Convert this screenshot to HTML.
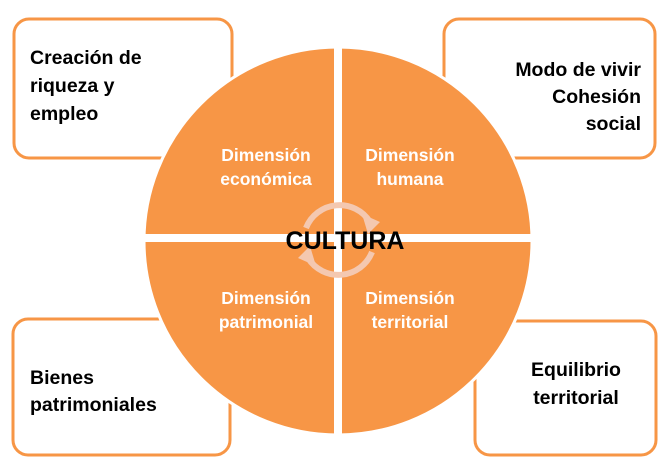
<!DOCTYPE html>
<html><head><meta charset="utf-8"><style>
body{margin:0;background:#fff;}
svg{display:block}
text{font-family:"Liberation Sans",sans-serif;font-weight:bold}
</style></head><body>
<svg width="667" height="470" viewBox="0 0 667 470">
<g fill="#fff" stroke="#f79646" stroke-width="3">
<rect x="14" y="19" width="218" height="139" rx="15"/>
<rect x="444" y="19" width="211" height="139" rx="15"/>
<rect x="13" y="319" width="217" height="136" rx="15"/>
<rect x="475" y="321" width="181" height="134" rx="15"/>
</g>
<circle cx="338" cy="241" r="194" fill="#f79646" stroke="#fff" stroke-width="3"/>
<rect x="334" y="40" width="8" height="405" fill="#fff"/>
<rect x="140" y="234" width="400" height="8" fill="#fff"/>
<g fill="none" stroke="#f4c8b0" stroke-width="6">
<path d="M306 228 A36 36 0 0 1 370 222"/>
<path d="M372 252 A36 36 0 0 1 308 258"/>
</g>
<polygon points="362,214 380,222 368,234" fill="#f4c8b0"/>
<polygon points="316,266 298,258 310,246" fill="#f4c8b0"/>
<g fill="#fff" font-size="17.5" text-anchor="middle">
<text x="266" y="161">Dimensión</text><text x="266" y="185">económica</text>
<text x="410" y="161">Dimensión</text><text x="410" y="185">humana</text>
<text x="266" y="304">Dimensión</text><text x="266" y="328">patrimonial</text>
<text x="410" y="304">Dimensión</text><text x="410" y="328">territorial</text>
</g>
<text x="345" y="249" font-size="25" text-anchor="middle" fill="#000">CULTURA</text>
<g fill="#000" font-size="19.5">
<text x="30" y="64">Creación de</text>
<text x="30" y="92">riqueza y</text>
<text x="30" y="120">empleo</text>
<text x="641" y="76" text-anchor="end">Modo de vivir</text>
<text x="641" y="103" text-anchor="end">Cohesión</text>
<text x="641" y="130" text-anchor="end">social</text>
<text x="30" y="384">Bienes</text>
<text x="30" y="411">patrimoniales</text>
<text x="576" y="376" text-anchor="middle">Equilibrio</text>
<text x="576" y="404" text-anchor="middle">territorial</text>
</g>
</svg>
</body></html>
